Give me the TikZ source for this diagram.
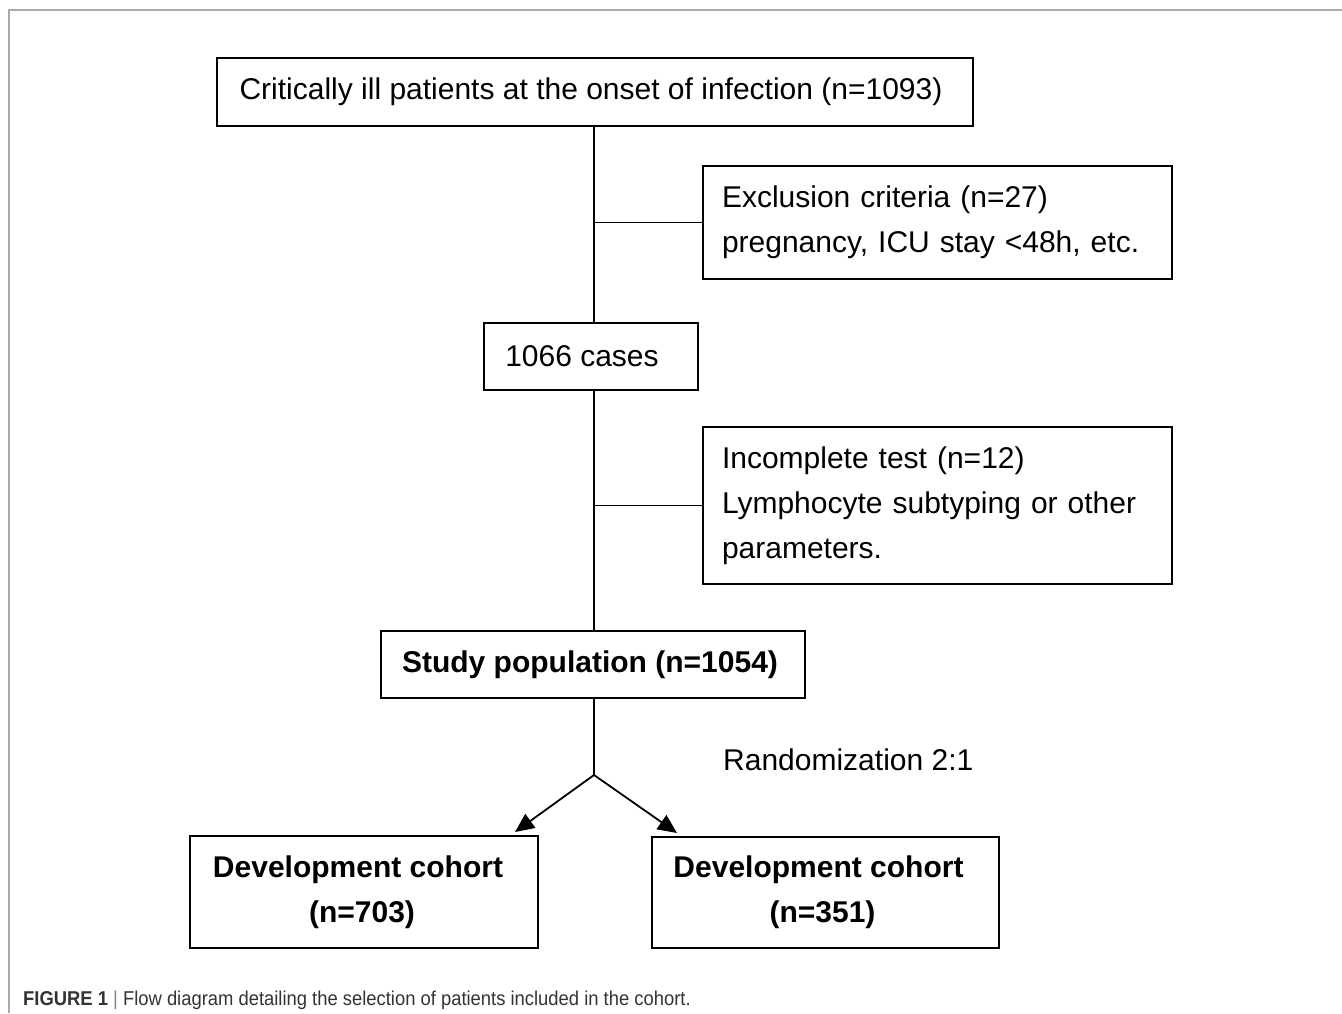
\documentclass[tikz,border=0pt]{standalone}
\usepackage{fontspec}
\setmainfont{Liberation Sans}
\newfontfamily\capfont[FakeStretch=0.92]{Liberation Sans}
\usetikzlibrary{arrows.meta,calc}
\begin{document}
\begin{tikzpicture}[x=1pt,y=-1pt,
  box/.style={draw=black,line width=1.8pt,inner sep=0pt,font=\fontsize{30}{45}\selectfont},
  lbox/.style={box,align=left,text width=#1,inner xsep=19pt},
  conn/.style={draw=black,line width=1.8pt},
  arr/.style={conn,-{Triangle[length=19pt,width=17pt]}},
  lbl/.style={font=\fontsize{30}{45}\selectfont,inner sep=0pt}]
\useasboundingbox (0,0) rectangle (1342,1013);
\draw[color=black!33,line width=1.6pt] (9,1013) -- (9,10) -- (1342,10);
\node[box,minimum width=756pt,minimum height=68pt] (top) at (595,92) {Critically ill patients at the onset of infection (n=1093)\hspace*{8pt}};
\node[lbox=431pt,minimum height=113pt] (excl) at (937.5,222.5) {Exclusion criteria (n=27)\\pregnancy, ICU stay <48h, etc.};
\node[box,minimum width=214pt,minimum height=67pt] (cases) at (591,356.5) {1066 cases\hspace*{18pt}};
\node[lbox=431pt,minimum height=157pt] (inc) at (937.5,505.5) {Incomplete test (n=12)\\\makebox[426pt][s]{Lymphocyte subtyping or other}\\parameters.};
\node[box,minimum width=424pt,minimum height=67pt,font=\fontsize{30}{45}\selectfont\bfseries] (study) at (593,664.5) {Study population (n=1054)\hspace*{6pt}};
\node[lbl,anchor=west] (rand) at (723,760) {Randomization 2:1};
\node[box,minimum width=348pt,minimum height=112pt,align=center,font=\fontsize{30}{45}\selectfont\bfseries] (dev1) at (364,892) {Development cohort\hspace*{12pt}\\(n=703)\hspace*{4pt}};
\node[box,minimum width=347pt,minimum height=111pt,align=center,font=\fontsize{30}{45}\selectfont\bfseries] (dev2) at (825.5,892.5) {Development cohort\hspace*{14pt}\\(n=351)\hspace*{6pt}};
\coordinate (sp) at (594,0);
\coordinate (br) at (594,775);
\coordinate (t1) at (515,832);
\coordinate (t2) at (677,833);
\draw[conn] (top.south -| sp) -- (cases.north -| sp);
\draw[conn] (sp |- excl.west) -- (excl.west);
\draw[conn] (cases.south -| sp) -- (study.north -| sp);
\draw[conn] (sp |- inc.west) -- (inc.west);
\draw[conn] (study.south -| sp) -- (br);
\draw[arr] (br) -- (t1);
\draw[arr] (br) -- (t2);
\node[anchor=west,inner sep=0pt,font=\capfont\fontsize{20}{23}\selectfont,text=black!80] (cap) at (23,1000) {\textbf{FIGURE 1} \textcolor{black!50}{|} Flow diagram detailing the selection of patients included in the cohort.};
\end{tikzpicture}
\end{document}
